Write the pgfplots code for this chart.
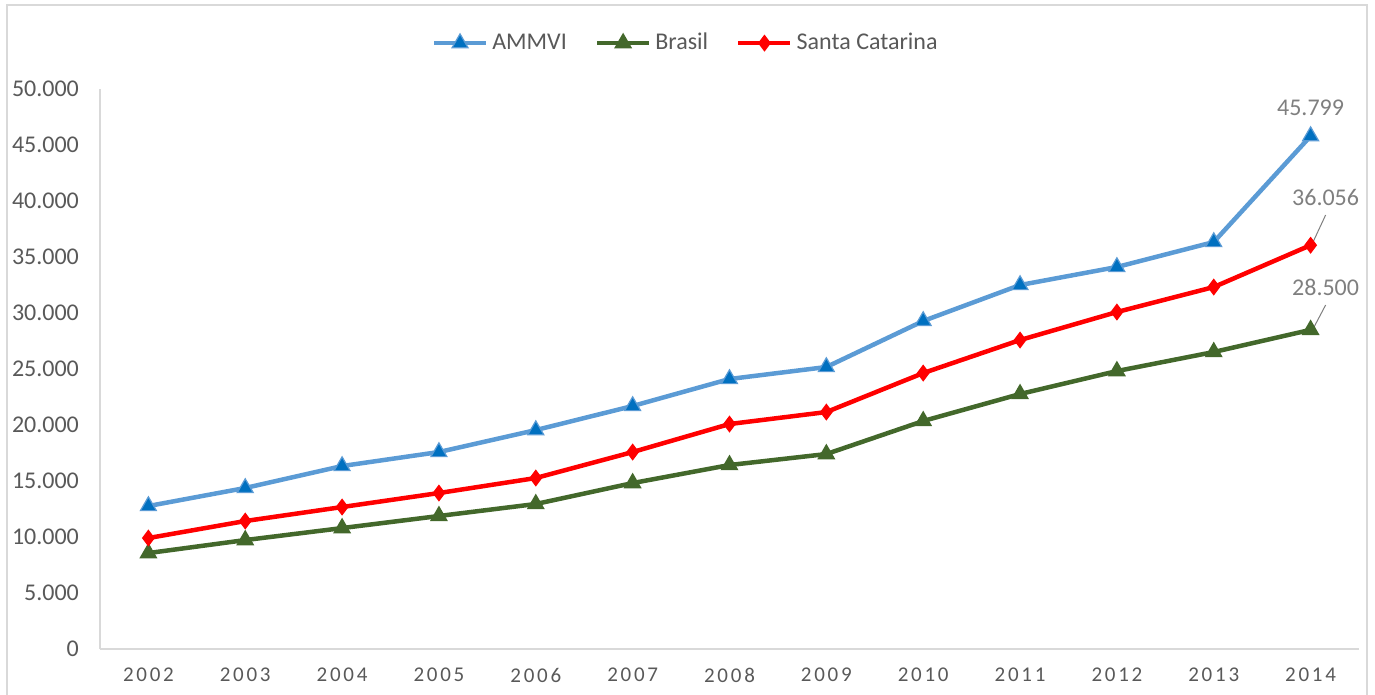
\documentclass[border=0pt]{standalone}
\usepackage{pgfplots}
\pgfplotsset{compat=1.18}
\usepackage{fontspec}
\setmainfont{Carlito}
\newfontfamily\spaced[LetterSpace=13]{Carlito}

\definecolor{ammviline}{HTML}{5B9BD5}
\definecolor{ammvimark}{HTML}{0070C0}
\definecolor{brgreen}{HTML}{43682B}
\definecolor{scred}{HTML}{FF0000}
\definecolor{tickgray}{HTML}{595959}
\definecolor{labelgray}{HTML}{7F7F7F}
\definecolor{axisgray}{HTML}{D9D9D9}

\begin{document}
\begin{tikzpicture}
\begin{axis}[
    width=629.5pt, height=280pt, scale only axis,
    xmin=2001.5, xmax=2014.5, ymin=0, ymax=50000,
    axis x line*=bottom, axis y line*=left,
    axis line style={draw=axisgray, line width=0.9pt, -},
    major tick length=0pt,
    scaled y ticks=false,
    xtick={2002,2003,2004,2005,2006,2007,2008,2009,2010,2011,2012,2013,2014},
    xticklabels={2002,2003,2004,2005,2006,2007,2008,2009,2010,2011,2012,2013,2014},
    ytick={0,5000,10000,15000,20000,25000,30000,35000,40000,45000,50000},
    yticklabels={0,5.000,10.000,15.000,20.000,25.000,30.000,35.000,40.000,45.000,50.000},
    xticklabel style={font=\spaced\fontsize{10.5}{12}\selectfont, text=tickgray, yshift=-6pt},
    yticklabel style={font=\fontsize{12}{14}\selectfont, text=tickgray, xshift=-7pt},
    legend columns=-1,
    legend style={draw=none, at={(0.466,1.082)}, anchor=center,
        font=\fontsize{12}{14}\selectfont, text=tickgray,
        /tikz/every even column/.append style={column sep=12pt}},
    legend image code/.code={\draw[mark repeat=2,mark phase=2] plot coordinates {(0pt,0pt)(13pt,0pt)(26pt,0pt)};},
    clip=false,
]
\addplot[draw=ammviline, line width=2.25pt, mark=triangle*, mark size=4.6pt,
    mark options={fill=ammvimark, draw=ammviline, line width=0.6pt}] coordinates {
(2002,12770) (2003,14380) (2004,16340) (2005,17590) (2006,19550) (2007,21700)
(2008,24110) (2009,25180) (2010,29290) (2011,32500) (2012,34110) (2013,36340) (2014,45799)
};
\addlegendentry{AMMVI}
\addplot[draw=brgreen, line width=2.25pt, mark=triangle*, mark size=4.6pt,
    mark options={fill=brgreen, draw=brgreen, line width=0.6pt}] coordinates {
(2002,8570) (2003,9730) (2004,10800) (2005,11880) (2006,12950) (2007,14820)
(2008,16430) (2009,17410) (2010,20360) (2011,22770) (2012,24820) (2013,26520) (2014,28500)
};
\addlegendentry{Brasil}
\addplot[draw=scred, line width=2.25pt, mark=diamond*, mark size=3.8pt,
    mark options={fill=scred, draw=scred, line width=0.6pt}] coordinates {
(2002,9910) (2003,11430) (2004,12680) (2005,13930) (2006,15270) (2007,17590)
(2008,20090) (2009,21160) (2010,24640) (2011,27590) (2012,30090) (2013,32320) (2014,36056)
};
\addlegendentry{Santa Catarina}

\node[text=labelgray, font=\fontsize{12}{14}\selectfont] at (axis cs:2014,48300) {45.799};
\node[text=labelgray, font=\fontsize{12}{14}\selectfont] at (axis cs:2014.155,40357) {36.056};
\node[text=labelgray, font=\fontsize{12}{14}\selectfont] at (axis cs:2014.155,32321) {28.500};
\draw[labelgray, line width=0.5pt] (axis cs:2014.155,38750) -- (axis cs:2014.03,36430);
\draw[labelgray, line width=0.5pt] (axis cs:2014.155,30714) -- (axis cs:2014.03,28660);

\coordinate (bbA) at (rel axis cs:-0.0794,-0.082);
\coordinate (bbB) at (rel axis cs:1.0127,1.159);
\coordinate (frA) at (rel axis cs:-0.0739,-0.2);
\coordinate (frB) at (rel axis cs:1.0064,1.15);
\end{axis}
\draw[axisgray, line width=0.75pt] (frA) rectangle (frB);
\pgfresetboundingbox
\path[use as bounding box] (bbA) rectangle (bbB);
\end{tikzpicture}
\end{document}
